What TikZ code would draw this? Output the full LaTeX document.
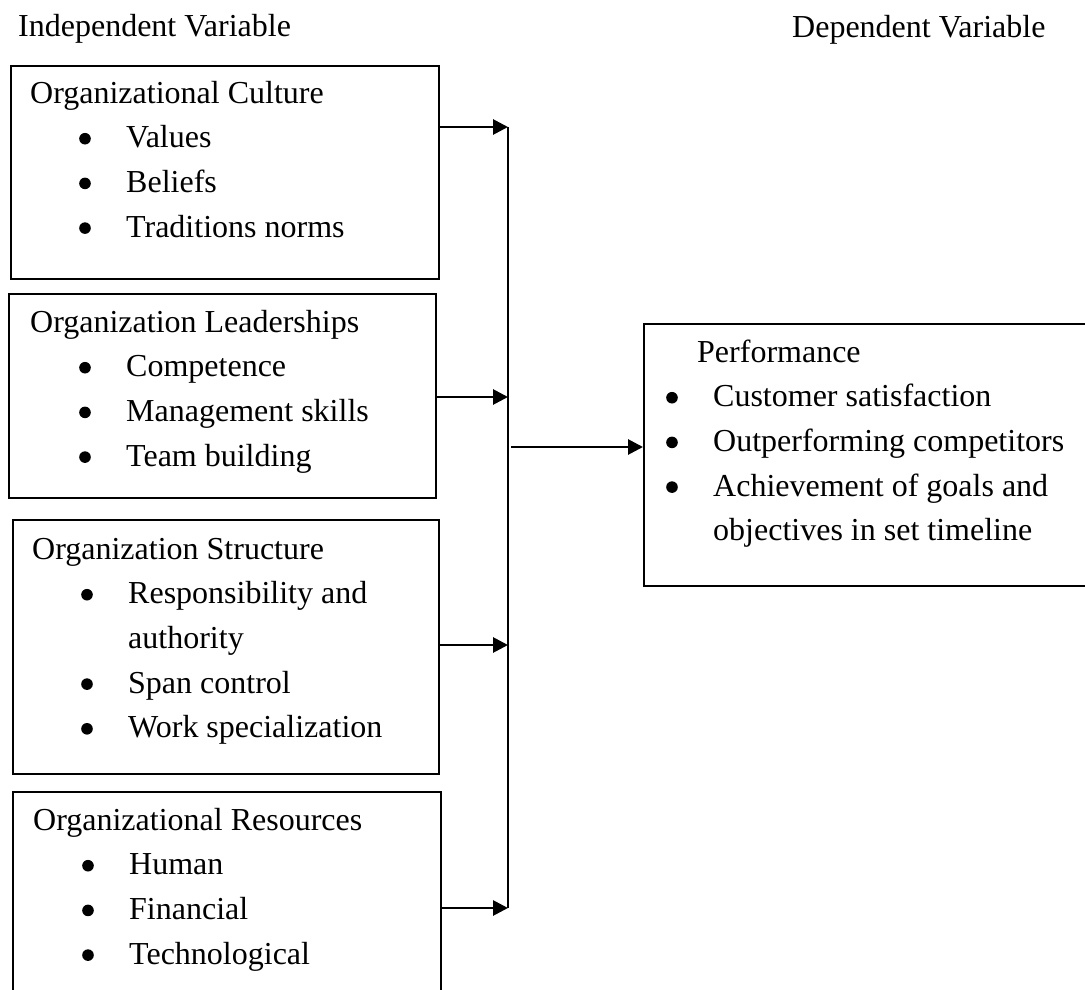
\documentclass[tikz,border=0pt]{standalone}
\usepackage{fontspec}
\setmainfont{Liberation Serif}
\usetikzlibrary{arrows.meta}
\newcommand{\dotmark}{\tikz[baseline=0pt]\fill[black] (5.8pt,9pt) circle (5.8pt);}
\newcommand{\bitem}[1]{\hspace*{49pt}\makebox[47pt][l]{\dotmark}#1}
\newcommand{\pitem}[1]{\makebox[47pt][l]{\dotmark}#1}

\begin{document}
\begin{tikzpicture}[x=1pt,y=-1pt,
    box/.style={draw=black, line width=2pt, inner sep=0pt, anchor=north west},
    lbl/.style={anchor=base west, inner sep=0pt, font=\fontsize{32}{44.7}\selectfont},
    link/.style={line width=2.8pt, -{Triangle[length=15pt,width=15pt]}}]
    \clip (0,0) rectangle (1085,990);
    \node[lbl] (indep) at (18,37) {Independent Variable};
    \node[lbl] (dep) at (792,38) {Dependent Variable};

    \node[box, minimum width=428pt, minimum height=213pt] (culture) at (10,65) {};
    \node[box, minimum width=427pt, minimum height=204pt] (leader) at (8,293) {};
    \node[box, minimum width=426pt, minimum height=254pt] (struct) at (12,519) {};
    \node[box, minimum width=428pt, minimum height=230pt] (resource) at (12,791) {};
    \node[box, minimum width=460pt, minimum height=262pt] (perf) at (643,323) {};

    \node[lbl] (culturetxt) at (30,103) {\begin{tabular}[t]{@{}l@{}}
        Organizational Culture\\
        \bitem{Values}\\
        \bitem{Beliefs}\\
        \bitem{Traditions norms}
    \end{tabular}};
    \node[lbl] (leadertxt) at (30,332) {\begin{tabular}[t]{@{}l@{}}
        Organization Leaderships\\
        \bitem{Competence}\\
        \bitem{Management skills}\\
        \bitem{Team building}
    \end{tabular}};
    \node[lbl] (structtxt) at (32,559) {\begin{tabular}[t]{@{}l@{}}
        Organization Structure\\
        \bitem{Responsibility and}\\
        \hspace*{96pt}authority\\
        \bitem{Span control}\\
        \bitem{Work specialization}
    \end{tabular}};
    \node[lbl] (resourcetxt) at (33,830) {\begin{tabular}[t]{@{}l@{}}
        Organizational Resources\\
        \bitem{Human}\\
        \bitem{Financial}\\
        \bitem{Technological}
    \end{tabular}};
    \node[lbl] (perftxt) at (666,362) {\begin{tabular}[t]{@{}l@{}}
        \hspace*{31pt}Performance\\
        \pitem{Customer satisfaction}\\
        \pitem{Outperforming competitors}\\
        \pitem{Achievement of goals and}\\
        \hspace*{47pt}objectives in set timeline
    \end{tabular}};

    \coordinate (j1) at (508,127);
    \coordinate (j2) at (508,397);
    \coordinate (j3) at (508,645);
    \coordinate (j4) at (508,908);
    \coordinate (m) at (511,447);
    \draw[line width=2.8pt] (j1) -- (j4);
    \draw[link] (culture.east |- j1) -- (j1);
    \draw[link] (leader.east |- j2) -- (j2);
    \draw[link] (struct.east |- j3) -- (j3);
    \draw[link] (resource.east |- j4) -- (j4);
    \draw[link] (m) -- (perf.west |- m);
\end{tikzpicture}
\end{document}
